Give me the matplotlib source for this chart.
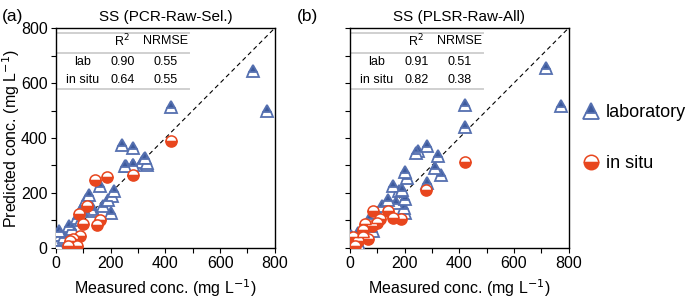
import matplotlib.pyplot as plt
import numpy as np

plt.rcParams['font.family'] = ['Liberation Sans', 'DejaVu Sans']

# panel (a) PCR-Raw-Sel.
a_lab_x = [720, 771, 422, 242, 282, 255, 282, 321, 331, 313, 281, 324, 334, 251, 212, 203, 190, 172, 200, 160,
           121, 109, 133, 136, 128, 100, 75, 90, 48, 12, 15, 14, 22, 8, 93, 60, 30]
a_lab_y = [645, 497, 512, 373, 364, 297, 303, 324, 303, 312, 300, 326, 309, 297, 206, 188, 176, 151, 127, 224,
           194, 176, 145, 133, 140, 150, 109, 100, 79, 60, 45, 30, 15, 10, 137, 70, 40]
a_situ_x = [422, 280, 187, 142, 84, 114, 160, 151, 100, 88, 63, 51, 75, 45]
a_situ_y = [388, 267, 258, 248, 124, 154, 101, 85, 87, 42, 33, 24, 6, 6]

# panel (b) PLSR-Raw-All
b_lab_x = [717, 772, 423, 422, 282, 249, 241, 322, 310, 334, 283, 201, 210, 158, 179, 191, 170, 203, 198, 201,
           140, 116, 101, 73, 89, 55, 30, 6, 18, 35, 85]
b_lab_y = [655, 518, 521, 440, 370, 352, 345, 333, 291, 267, 236, 275, 255, 227, 206, 212, 164, 178, 145, 127,
           176, 152, 127, 109, 97, 79, 55, 42, 25, 12, 61]
b_situ_x = [422, 280, 186, 158, 140, 109, 85, 82, 101, 55, 49, 67, 30, 12, 18, 49]
b_situ_y = [312, 212, 105, 109, 133, 105, 133, 79, 91, 87, 67, 33, 24, 40, 8, 40]

titles = ['SS (PCR-Raw-Sel.)', 'SS (PLSR-Raw-All)']
tags = ['(a)', '(b)']
r2 = [['0.90', '0.64'], ['0.91', '0.82']]
nrmse = [['0.55', '0.55'], ['0.51', '0.38']]

blue = '#3d5a9c'
blue_edge = '#5570b0'
red = '#e8461e'

fig = plt.figure(figsize=(6.9, 3.02), dpi=100)
ax1 = fig.add_axes([0.0812, 0.179, 0.317, 0.728])
ax2 = fig.add_axes([0.507, 0.179, 0.317, 0.728])

data = [(a_lab_x, a_lab_y, a_situ_x, a_situ_y), (b_lab_x, b_lab_y, b_situ_x, b_situ_y)]
for i, ax in enumerate([ax1, ax2]):
    lx, ly, sx, sy = data[i]
    ax.plot([0, 800], [0, 800], '--', color='black', lw=0.8, dashes=(4, 3), zorder=1)
    ax.plot(lx, ly, '^', ms=9, fillstyle='top', markerfacecolor=blue,
            markerfacecoloralt='white', markeredgecolor=blue_edge, markeredgewidth=1.3,
            ls='none', label='laboratory', zorder=3)
    ax.plot(sx, sy, 'o', ms=8, fillstyle='bottom', markerfacecolor=red,
            markerfacecoloralt='white', markeredgecolor=red, markeredgewidth=1.1,
            ls='none', label='in situ', zorder=4)
    ax.set_xlim(0, 800)
    ax.set_ylim(0, 800)
    ax.set_xticks(np.arange(0, 801, 200))
    ax.set_yticks(np.arange(0, 801, 200))
    ax.set_xticks(np.arange(100, 800, 200), minor=True)
    ax.set_yticks(np.arange(100, 800, 200), minor=True)
    ax.tick_params(which='both', direction='out', length=3.5, width=0.8, labelsize=11.5, pad=2.5)
    for s in ax.spines.values():
        s.set_linewidth(1.0)
    ax.set_title(titles[i], fontsize=11, pad=5)
    ax.set_xlabel('Measured conc. (mg L$^{-1}$)', fontsize=11.5, labelpad=4)

    # inner stats table
    for yy in [0.977, 0.886, 0.723]:
        ax.plot([0.01, 0.61], [yy, yy], color='#d0d0d0', lw=1.4, transform=ax.transAxes, zorder=2)
    ax.text(0.30, 0.939, 'R$^2$', transform=ax.transAxes, ha='center', va='center', fontsize=9)
    ax.text(0.50, 0.939, 'NRMSE', transform=ax.transAxes, ha='center', va='center', fontsize=9)
    ax.text(0.123, 0.848, 'lab', transform=ax.transAxes, ha='center', va='center', fontsize=9)
    ax.text(0.123, 0.765, 'in situ', transform=ax.transAxes, ha='center', va='center', fontsize=9)
    for j, yy in enumerate([0.848, 0.765]):
        ax.text(0.306, yy, r2[i][j], transform=ax.transAxes, ha='center', va='center', fontsize=9)
        ax.text(0.50, yy, nrmse[i][j], transform=ax.transAxes, ha='center', va='center', fontsize=9)

ax1.set_ylabel('Predicted conc. (mg L$^{-1}$)', fontsize=11.5)
ax1.yaxis.set_label_coords(-0.155, 0.5)
ax2.set_yticklabels([])

fig.text(0.003, 0.93, tags[0], fontsize=12.5)
fig.text(0.43, 0.93, tags[1], fontsize=12.5)

ax2.legend(loc='center left', bbox_to_anchor=(0.98, 0.50), frameon=False, fontsize=13,
           markerscale=1.3, handletextpad=0.2, labelspacing=1.9, handlelength=1.2)

plt.savefig('out.png', dpi=100)
